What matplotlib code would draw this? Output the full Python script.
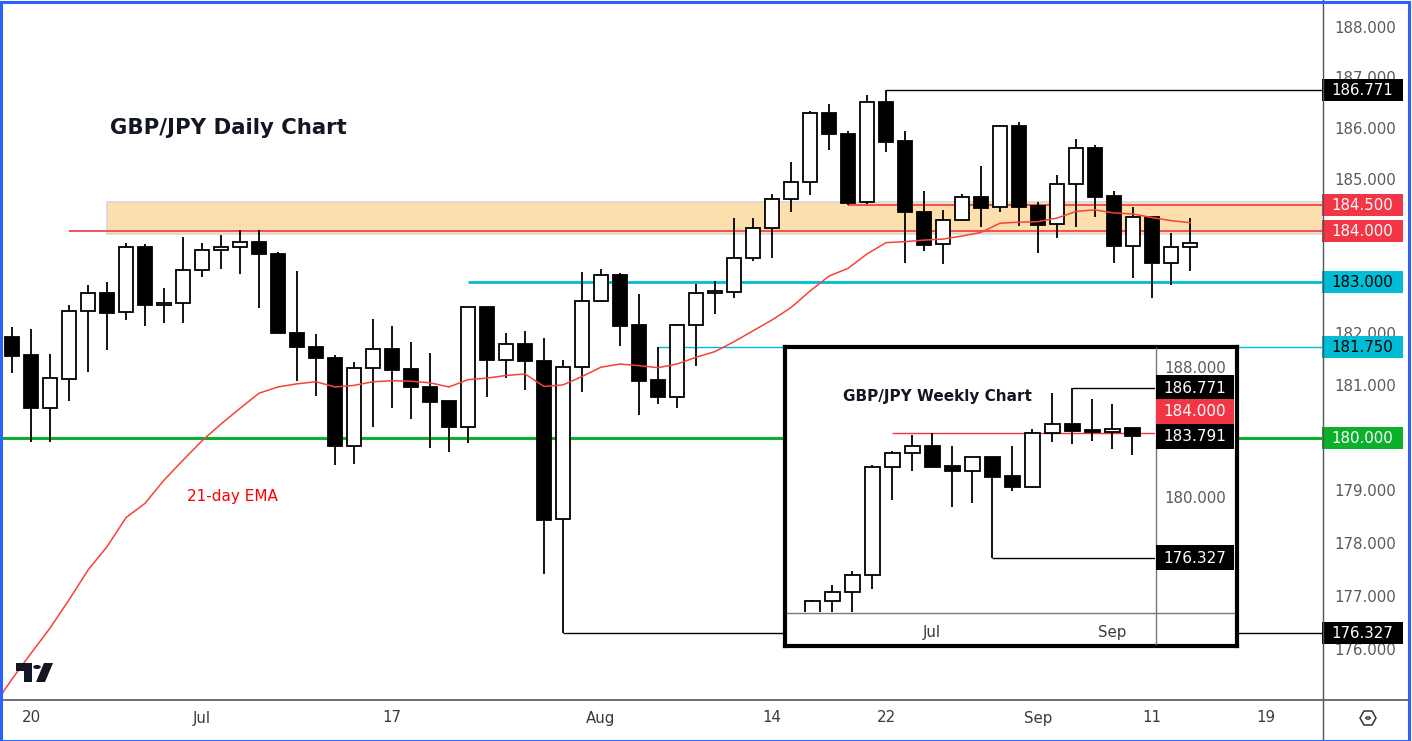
import numpy as np
import matplotlib
matplotlib.use('Agg')
import matplotlib.pyplot as plt
from matplotlib.patches import Rectangle, Polygon, Circle
from matplotlib.lines import Line2D

plt.rcParams['font.family'] = ['DejaVu Sans']

W, H = 1412, 741

# ---------------- daily data (GBP/JPY) ----------------
dates = ['2023-06-19', '2023-06-20', '2023-06-21', '2023-06-22', '2023-06-23', '2023-06-26', '2023-06-27',
         '2023-06-28', '2023-06-29', '2023-06-30', '2023-07-03', '2023-07-04', '2023-07-05', '2023-07-06',
         '2023-07-07', '2023-07-10', '2023-07-11', '2023-07-12', '2023-07-13', '2023-07-14', '2023-07-17',
         '2023-07-18', '2023-07-19', '2023-07-20', '2023-07-21', '2023-07-24', '2023-07-25', '2023-07-26',
         '2023-07-27', '2023-07-28', '2023-07-31', '2023-08-01', '2023-08-02', '2023-08-03', '2023-08-04',
         '2023-08-07', '2023-08-08', '2023-08-09', '2023-08-10', '2023-08-11', '2023-08-14', '2023-08-15',
         '2023-08-16', '2023-08-17', '2023-08-18', '2023-08-21', '2023-08-22', '2023-08-23', '2023-08-24',
         '2023-08-25', '2023-08-28', '2023-08-29', '2023-08-30', '2023-08-31', '2023-09-01', '2023-09-04',
         '2023-09-05', '2023-09-06', '2023-09-07', '2023-09-08', '2023-09-11', '2023-09-12', '2023-09-13']
opens = [181.94, 181.59, 180.57, 181.14, 182.44, 182.79, 182.42, 183.68, 182.56, 182.59,
         183.23, 183.62, 183.68, 183.78, 183.54, 182.01, 181.75, 181.54, 179.86, 181.34,
         181.71, 181.33, 180.98, 180.71, 180.22, 182.52, 181.49, 181.80, 181.48, 178.46,
         181.36, 182.63, 183.14, 182.17, 181.11, 180.78, 182.17, 182.79, 182.82, 183.47,
         184.05, 184.62, 184.95, 186.31, 185.90, 184.56, 186.53, 185.76, 184.36, 183.74,
         184.21, 184.66, 184.46, 186.06, 184.49, 184.13, 184.91, 185.62, 184.68, 183.71,
         184.27, 183.37, 183.68]
highs = [182.13, 182.09, 181.61, 182.56, 182.94, 183.00, 183.76, 183.74, 182.88, 183.88,
         183.76, 183.92, 184.02, 184.02, 183.58, 183.22, 182.00, 181.60, 181.46, 182.29,
         182.15, 181.85, 181.63, 180.72, 182.52, 182.53, 182.02, 182.06, 181.92, 181.50,
         183.19, 183.26, 183.18, 182.77, 181.75, 182.20, 182.97, 183.03, 184.25, 184.25,
         184.72, 185.35, 186.35, 186.49, 185.96, 186.67, 186.771, 185.96, 184.78, 184.41,
         184.73, 185.27, 186.08, 186.13, 184.56, 185.09, 185.80, 185.69, 184.78, 184.46,
         184.27, 183.96, 184.25]
lows = [181.24, 179.93, 179.93, 180.72, 181.27, 181.70, 182.26, 182.16, 182.22, 182.22,
        183.11, 183.25, 183.17, 182.51, 181.99, 181.10, 180.81, 179.48, 179.50, 180.22,
        180.58, 180.37, 179.82, 179.74, 179.91, 180.78, 181.16, 180.92, 177.42, 176.327,
        180.89, 182.61, 181.76, 180.45, 180.66, 180.58, 181.39, 182.39, 182.70, 183.42,
        183.48, 184.36, 184.71, 185.59, 184.50, 184.53, 185.55, 183.38, 183.61, 183.36,
        184.19, 184.08, 184.37, 184.10, 183.56, 183.87, 184.08, 184.28, 183.38, 183.08,
        182.70, 182.95, 183.22]
closes = [181.58, 180.57, 181.15, 182.44, 182.79, 182.41, 183.68, 182.55, 182.59, 183.23,
          183.62, 183.68, 183.78, 183.54, 182.01, 181.74, 181.53, 179.86, 181.35, 181.71,
          181.31, 180.97, 180.70, 180.22, 182.52, 181.49, 181.80, 181.47, 178.45, 181.36,
          182.63, 183.14, 182.16, 181.10, 180.78, 182.17, 182.79, 182.83, 183.47, 184.05,
          184.62, 184.95, 186.31, 185.89, 184.55, 186.53, 185.75, 184.36, 183.73, 184.21,
          184.66, 184.45, 186.06, 184.47, 184.12, 184.91, 185.62, 184.67, 183.71, 184.27,
          183.37, 183.68, 183.76]

ema_dates = ['2023-06-16'] + dates
ema_21 = [174.94, 175.46, 175.94, 176.41, 176.94, 177.50, 177.94, 178.49, 178.76, 179.20,
          179.58, 179.95, 180.27, 180.57, 180.86, 180.98, 181.04, 181.08, 180.98, 181.01,
          181.08, 181.10, 181.09, 181.06, 180.98, 181.12, 181.15, 181.20, 181.23, 180.99,
          181.02, 181.18, 181.36, 181.42, 181.39, 181.35, 181.42, 181.55, 181.66, 181.85,
          182.06, 182.27, 182.51, 182.83, 183.12, 183.27, 183.55, 183.77, 183.79, 183.82,
          183.84, 183.90, 183.97, 184.15, 184.17, 184.18, 184.25, 184.38, 184.41, 184.35,
          184.33, 184.26, 184.20, 184.16]

# horizontal levels
level_values = [186.771, 184.5, 184.0, 183.0, 181.75, 180.0, 176.327]
level_starts = ['2023-08-22', '2023-08-18', '2023-06-22', '2023-07-21', '2023-08-04', None, '2023-07-28']
level_labels = ['186.771', '184.500', '184.000', '183.000', '181.750', '180.000', '176.327']
zone_low, zone_high, zone_start = 183.94, 184.57, '2023-06-26'

# price ticks that remain (partly) visible beside the level labels
price_ticks = [176, 177, 178, 179, 181, 182, 185, 186, 187, 188]
x_tick_dates = ['2023-06-20', '2023-07-03', '2023-07-17', '2023-08-01', '2023-08-14',
                '2023-08-22', '2023-09-01', '2023-09-11', '2023-09-19']
x_tick_labels = ['20', 'Jul', '17', 'Aug', '14', '22', 'Sep', '11', '19']

# ---------------- weekly data (inset) ----------------
w_dates = ['2023-05-22', '2023-05-29', '2023-06-05', '2023-06-12', '2023-06-19', '2023-06-26',
           '2023-07-03', '2023-07-10', '2023-07-17', '2023-07-24', '2023-07-31', '2023-08-07',
           '2023-08-14', '2023-08-21', '2023-08-28', '2023-09-04', '2023-09-11']
w_open = [172.50, 173.64, 174.20, 175.24, 181.89, 182.75, 183.18, 181.95, 181.64, 182.50,
          181.35, 180.70, 183.98, 184.54, 184.18, 184.04, 184.29]
w_high = [173.74, 174.63, 175.51, 182.01, 182.89, 183.86, 183.98, 183.20, 182.50, 182.50,
          183.20, 184.25, 186.48, 186.771, 186.09, 185.78, 184.29]
w_low = [172.30, 172.90, 172.70, 174.38, 179.88, 181.68, 181.93, 179.46, 179.71, 176.327,
         180.45, 180.60, 183.46, 183.32, 183.53, 183.03, 182.65]
w_close = [173.66, 174.20, 175.24, 181.89, 182.75, 183.18, 181.93, 181.64, 182.50, 181.31,
           180.70, 183.98, 184.54, 184.14, 184.08, 184.25, 183.791]
w_price_ticks = [180, 188]
w_tick_dates = ['2023-07-03', '2023-09-04']
w_tick_labels = ['Jul', 'Sep']
w_levels = [186.771, 184.0, 176.327]
w_level_starts = ['2023-08-21', '2023-06-19', '2023-07-24']

# ---------------- colours ----------------
RED = '#F23645'
CYAN = '#00BCD4'
GREEN = '#0DB02B'
ZONE = '#FDDFAE'
GRAY_TXT = '#5a5a5a'

fig = plt.figure(figsize=(W / 100, H / 100), dpi=100)
fig.patch.set_facecolor('white')


def fr(x0, y0, x1, y1):
    return [x0 / W, 1 - y1 / H, (x1 - x0) / W, (y1 - y0) / H]


def fline(xs, ys, color, lw, z):
    fig.add_artist(Line2D([x / W for x in xs], [1 - y / H for y in ys], color=color, lw=lw,
                          transform=fig.transFigure, zorder=z))


def fbox(x0, x1, yc, h, bg, txt, fg, fs, z):
    fig.add_artist(Rectangle((x0 / W, 1 - (yc + h / 2) / H), (x1 - x0) / W, h / H,
                             transform=fig.transFigure, facecolor=bg, edgecolor='none', zorder=z))
    fig.text((x0 + x1) / 2 / W, 1 - (yc + 0.5) / H, txt, color=fg, fontsize=fs,
             ha='center', va='center', zorder=z + 0.1)


def draw_candles(axis, xs, o, h, l, c, width, lw, z):
    for xi, oo, hh, ll, cc in zip(xs, o, h, l, c):
        axis.vlines(xi, ll, hh, color='black', lw=lw, zorder=z)
        up = cc >= oo
        axis.bar(xi, abs(cc - oo), bottom=min(oo, cc), width=width,
                 facecolor='white' if up else 'black', edgecolor='black', linewidth=lw, zorder=z + 1)


# ---------------- main chart ----------------
ax = fig.add_axes(fr(2, 2, 1322, 699))
ax.set_yscale('log')
XMIN, XMAX = -0.526, 68.947
ax.set_xlim(XMIN, XMAX)
ax.set_ylim(175.09, 188.52)
ax.axis('off')


def pos(d):
    return int(np.busday_count(dates[0], d))


xs = [pos(d) for d in dates]

zx = pos(zone_start)
ax.add_patch(Rectangle((zx, zone_low), XMAX - zx, zone_high - zone_low,
                       facecolor=ZONE, edgecolor='#D6D8DE', lw=1.2, zorder=1))

level_styles = [('black', 1.0), (RED, 1.2), (RED, 1.2), (CYAN, 2.0), (CYAN, 1.0), (GREEN, 2.2), ('black', 1.0)]
for v, s, (col, lw) in zip(level_values, level_starts, level_styles):
    x0 = XMIN if s is None else pos(s)
    ax.hlines(v, x0, XMAX, color=col, lw=lw, zorder=2)

draw_candles(ax, xs, opens, highs, lows, closes, 0.78, 1.3, 3)
ax.plot([pos(d) for d in ema_dates], ema_21, color='#F4433A', lw=1.1, zorder=6)

fig.text(110 / W, 1 - 128 / H, 'GBP/JPY Daily Chart', fontsize=15.3, fontweight='bold',
         color='#131722', ha='left', va='center')
fig.text(187 / W, 1 - 496 / H, '21-day EMA', fontsize=11, color='#FF0000', ha='left', va='center')


def py_main(p):
    return H - ax.transData.transform((0, p))[1]


def px_main(xv):
    return ax.transData.transform((xv, 180))[0]


# right price scale
for t in price_ticks:
    fig.text(1365 / W, 1 - (py_main(t) + 0.5) / H, f'{t:.3f}', fontsize=10.8, color=GRAY_TXT,
             ha='center', va='center', zorder=1)
label_bg = ['black', RED, RED, CYAN, CYAN, GREEN, 'black']
label_fg = ['white', 'white', 'white', 'black', 'black', 'white', 'white']
for v, t, bg, fg in zip(level_values, level_labels, label_bg, label_fg):
    fbox(1322, 1403, py_main(v), 22, bg, t, fg, 10.8, 2)

# time scale
for d, t in zip(x_tick_dates, x_tick_labels):
    fig.text(px_main(pos(d)) / W, 1 - 718 / H, t, fontsize=10.8, color='#3a3a3a',
             ha='center', va='center')

# separators
fline([0, 1409], [699.5, 699.5], '#555555', 1.2, 2)
fline([1322.5, 1322.5], [0, 739], '#555555', 1.0, 2)

# settings icon
fig.add_artist(Polygon([((1360) / W, 1 - 718 / H), (1364 / W, 1 - 711 / H), (1372 / W, 1 - 711 / H),
                        (1376 / W, 1 - 718 / H), (1372 / W, 1 - 725 / H), (1364 / W, 1 - 725 / H)],
                       closed=True, fill=False, edgecolor='#333333', lw=1.1, transform=fig.transFigure, zorder=3))
fig.add_artist(Circle((1368 / W, 1 - 718 / H), 2.2 / W, fill=False, edgecolor='#333333', lw=1.0,
                      transform=fig.transFigure, zorder=3))

# TradingView logo
logo = '#131722'
fig.add_artist(Polygon([(16 / W, 1 - 663 / H), (32 / W, 1 - 663 / H), (32 / W, 1 - 682 / H),
                        (24 / W, 1 - 682 / H), (24 / W, 1 - 671 / H), (16 / W, 1 - 671 / H)],
                       closed=True, facecolor=logo, edgecolor='none', transform=fig.transFigure, zorder=3))
fig.add_artist(Circle((37 / W, 1 - 667 / H), 3.8 / W, facecolor=logo, edgecolor='none',
                      transform=fig.transFigure, zorder=3))
fig.add_artist(Polygon([(44 / W, 1 - 663 / H), (53 / W, 1 - 663 / H), (45 / W, 1 - 682 / H), (36 / W, 1 - 682 / H)],
                       closed=True, facecolor=logo, edgecolor='none', transform=fig.transFigure, zorder=3))

# ---------------- inset weekly chart ----------------
cont = fig.add_axes(fr(785, 346.5, 1236.5, 645.5))
cont.set_zorder(5)
cont.set_facecolor('white')
cont.set_xticks([])
cont.set_yticks([])
for s in cont.spines.values():
    s.set_linewidth(3.0)
    s.set_color('black')

ax_in = fig.add_axes(fr(787, 349, 1155, 612))
ax_in.set_zorder(6)
ax_in.patch.set_alpha(0)
ax_in.axis('off')
WXMIN, WXMAX = -1.265, 17.135
ax_in.set_xlim(WXMIN, WXMAX)
ax_in.set_ylim(172.98, 189.17)

wxs = list(range(len(w_dates)))
w_pos = {d: i for i, d in enumerate(w_dates)}
for v, s, col in zip(w_levels, w_level_starts, ['black', RED, 'black']):
    ax_in.hlines(v, w_pos[s], WXMAX, color=col, lw=1.0, zorder=2)
draw_candles(ax_in, wxs, w_open, w_high, w_low, w_close, 0.73, 1.3, 3)

fig.text(843 / W, 1 - 397 / H, 'GBP/JPY Weekly Chart', fontsize=11, fontweight='bold',
         color='#131722', ha='left', va='center', zorder=8)


def py_in(p):
    return H - ax_in.transData.transform((0, p))[1]


def px_in(xv):
    return ax_in.transData.transform((xv, 180))[0]


fline([1155.5, 1155.5], [348, 644], '#777777', 1.0, 7)
fline([787, 1234], [612.5, 612.5], '#777777', 1.0, 7)
for t in w_price_ticks:
    fig.text(1195 / W, 1 - (py_in(t) + 0.5) / H, f'{t:.3f}', fontsize=10.8, color=GRAY_TXT,
             ha='center', va='center', zorder=8)
for d, t in zip(w_tick_dates, w_tick_labels):
    fig.text(px_in(w_pos[d]) / W, 1 - 632 / H, t, fontsize=10.8, color='#3a3a3a',
             ha='center', va='center', zorder=8)

y_last = py_in(w_close[-1])
fbox(1156, 1234, py_in(w_high[13]), 25, 'black', f'{w_high[13]:.3f}', 'white', 11, 9)
fbox(1156, 1234, y_last - 25, 25, RED, f'{w_levels[1]:.3f}', 'white', 11, 9)
fbox(1156, 1234, y_last, 25, 'black', f'{w_close[-1]:.3f}', 'white', 11, 9)
fbox(1156, 1234, py_in(w_low[9]), 25, 'black', f'{w_low[9]:.3f}', 'white', 11, 9)

# outer frame
fig.add_artist(Rectangle((0.5 / W, 0.5 / H), (W - 4) / W, (H - 2) / H, fill=False,
                         edgecolor='#2962FF', lw=2.2, transform=fig.transFigure, zorder=20))

fig.savefig('out.png', dpi=100, facecolor='white')
